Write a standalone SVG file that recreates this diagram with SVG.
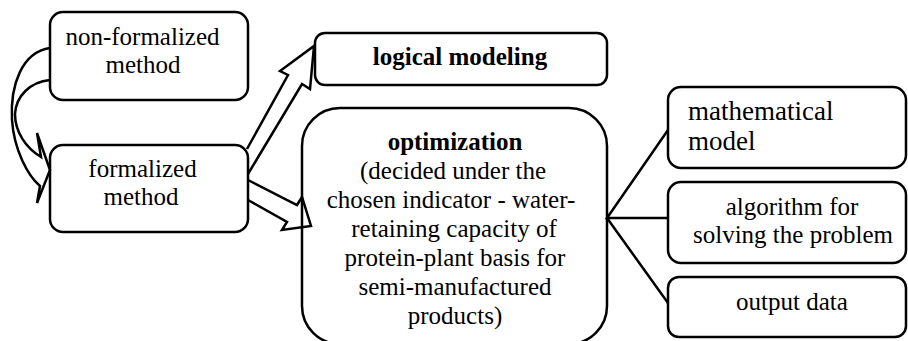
<svg xmlns="http://www.w3.org/2000/svg" width="908" height="341" viewBox="0 0 908 341">
<style>
.box{fill:#fff;stroke:#000;stroke-width:2.5}
.arr{fill:none;stroke:#000;stroke-width:2.5;stroke-linejoin:miter}
.ln{fill:none;stroke:#000;stroke-width:2.5}
.t{font-family:'Liberation Serif','Times New Roman',Times,serif;font-size:25px;fill:#000}
.c{text-anchor:middle}
.b{font-weight:bold}
.big{font-size:27px}
</style>
<rect width="908" height="341" fill="#fff"/>
<g class="t">
<g id="n1"><rect class="box" x="50" y="12" width="198" height="88" rx="13"/>
<text class="c" x="142.5" y="45">non-formalized</text><text class="c" x="143" y="73">method</text></g>
<g id="n2"><rect class="box" x="50" y="145" width="198" height="87" rx="13"/>
<text class="c" x="142.5" y="177">formalized</text><text class="c" x="141" y="205">method</text></g>
<g id="n3"><rect class="box" x="315" y="33" width="292" height="52" rx="10"/>
<text class="c b" x="460" y="65">logical modeling</text></g>
<g id="n4"><rect class="box" x="302" y="108" width="305" height="236" rx="38"/>
<text class="c b" x="455" y="150">optimization</text>
<text class="c" x="453" y="179">(decided under the</text>
<text class="c" x="451" y="208">chosen indicator - water-</text>
<text class="c" x="454" y="237">retaining capacity of</text>
<text class="c" x="455" y="266">protein-plant basis for</text>
<text class="c" x="455" y="295">semi-manufactured</text>
<text class="c" x="455" y="324">products)</text></g>
<g id="n5"><rect class="box" x="668" y="87" width="238" height="81" rx="13"/>
<text class="big" x="688" y="120">mathematical</text><text class="big" x="688" y="150">model</text></g>
<g id="n6"><rect class="box" x="668" y="182" width="238" height="81" rx="13"/>
<text class="c" x="792" y="215">algorithm for</text><text class="c" x="793" y="243">solving the problem</text></g>
<g id="n7"><rect class="box" x="668" y="277" width="238" height="60" rx="11"/>
<text class="c" x="792" y="310">output data</text></g>
</g>
<g id="connectors">
<path class="arr" d="M50,48 C22,52 10,85 12,120 C14,150 28,176 40,186 L37,203 L50,170 L37,133 L41,157 C26,148 15,132 15,114 C16,96 30,82 50,80"/>
<path class="arr" d="M247,149 L288,75 L280,71 L314,46 L310,89 L302,84 L248,174"/>
<path class="arr" d="M248,180 L297,205 L302,197 L311,226 L282,230 L287,222 L248,200"/>
<path class="ln" d="M668,130 L607,218 L668,218 M607,218 L668,303"/>
</g>
</svg>
